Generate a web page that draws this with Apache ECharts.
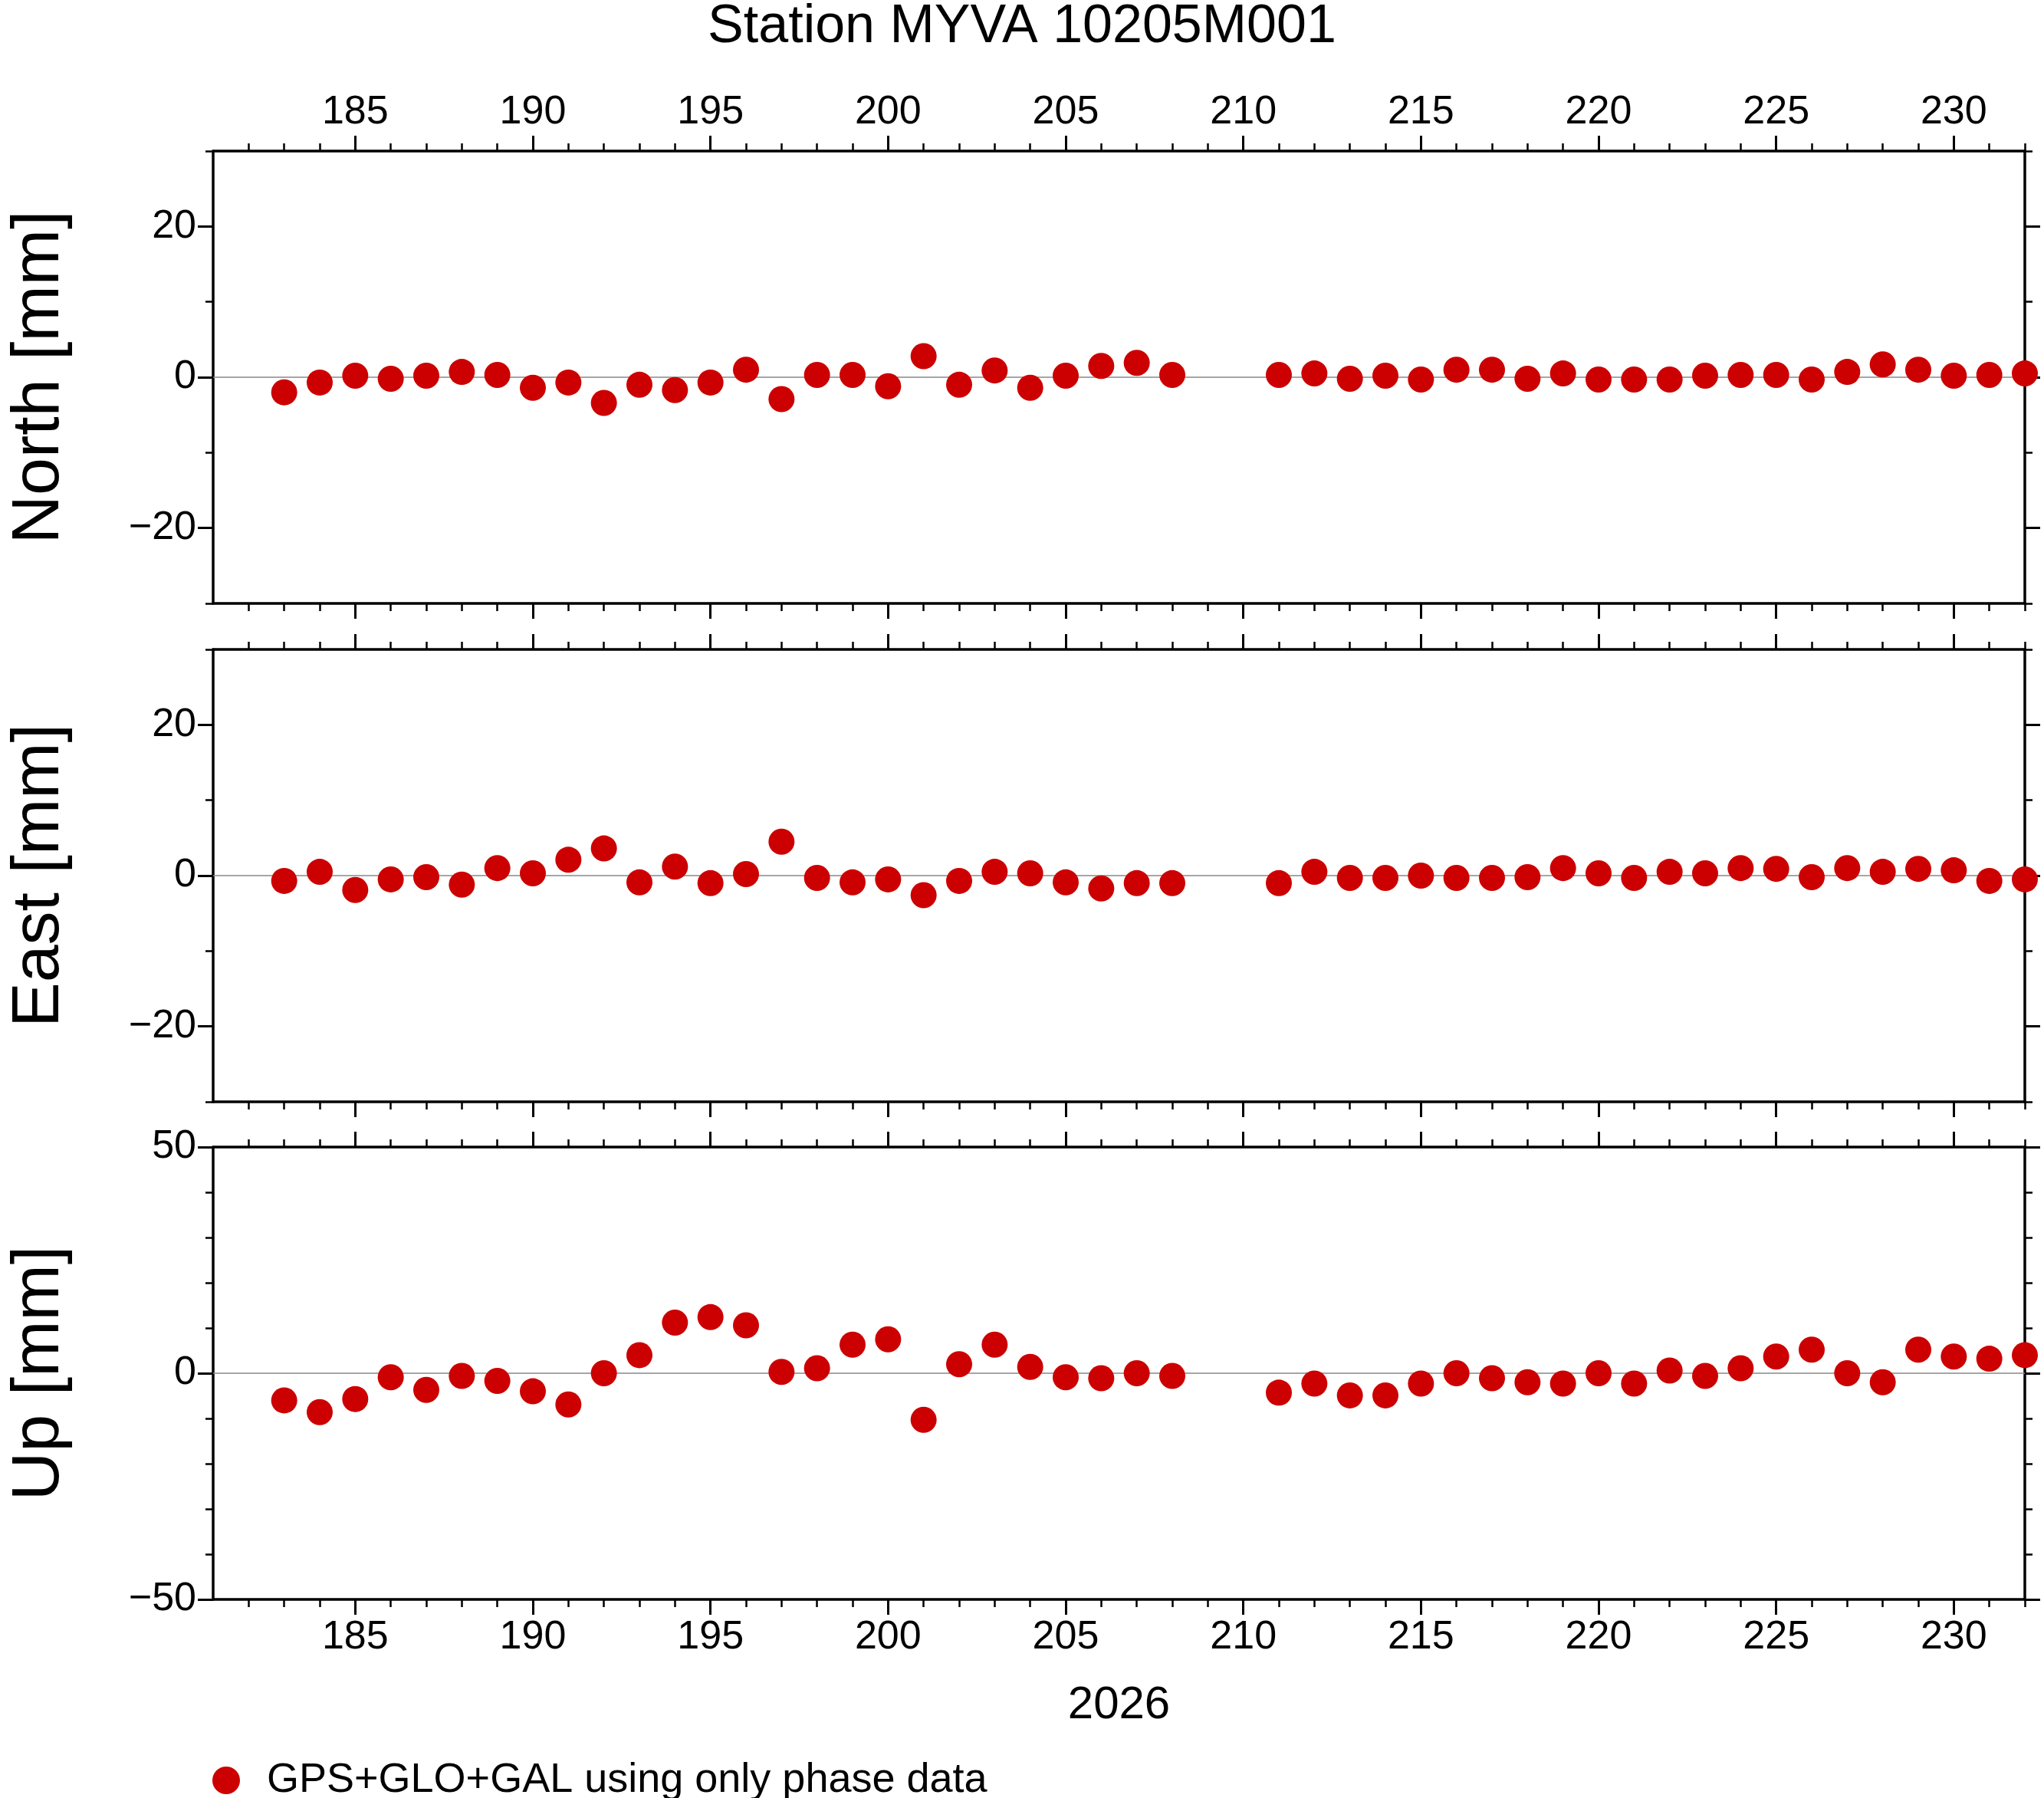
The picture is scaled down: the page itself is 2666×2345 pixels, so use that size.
<!DOCTYPE html>
<html>
<head>
<meta charset="utf-8">
<script src="https://cdn.jsdelivr.net/npm/echarts@6/dist/echarts.min.js"></script>
<style>html,body{margin:0;padding:0;background:#fff}#chart{width:2666px;height:2345px}</style>
</head>
<body>
<div id="chart"></div>
<script>
const days = [183,184,185,186,187,188,189,190,191,192,193,194,195,196,197,198,199,200,201,202,203,204,205,206,207,208,
  211,212,213,214,215,216,217,218,219,220,221,222,223,224,225,226,227,228,229,230,231,232]
const north = [-2,-0.7,0.2,-0.2,0.2,0.7,0.3,-1.4,-0.7,-3.4,-1,-1.7,-0.7,1,-2.9,0.3,0.3,-1.2,2.8,-1,0.9,-1.4,0.2,1.5,1.9,0.3,
  0.3,0.5,-0.2,0.2,-0.3,1,1,-0.2,0.5,-0.3,-0.3,-0.3,0.2,0.3,0.3,-0.3,0.7,1.7,1,0.2,0.3,0.5]
const east = [-0.7,0.5,-1.9,-0.5,-0.2,-1.2,1,0.3,2.1,3.6,-0.9,1.2,-1,0.2,4.5,-0.3,-0.9,-0.5,-2.6,-0.7,0.5,0.3,-0.9,-1.7,-1,-1,
  -1,0.5,-0.3,-0.3,0,-0.3,-0.3,-0.2,1,0.3,-0.3,0.5,0.3,1,0.9,-0.2,1,0.5,0.9,0.7,-0.7,-0.5]
const up = [-6,-8.6,-5.7,-0.9,-3.7,-0.6,-1.7,-4,-6.9,0,4,11.2,12.4,10.6,0.3,1.1,6.3,7.5,-10.3,2,6.3,1.4,-0.9,-1.1,0,-0.6,
  -4.3,-2.3,-4.9,-4.9,-2.3,0,-1.1,-2,-2.3,0,-2.3,0.6,-0.6,1.1,3.7,5.2,0,-2,5.2,3.7,3.2,4]
const xMajor = [185,190,195,200,205,210,215,220,225,230]
const xMinor = []
for (let d = 182; d <= 232; d++) xMinor.push(d)
const panels = [
  { name: 'North [mm]', data: north, min: -30, max: 30, major: [-20,0,20], minor: [-30,-20,-10,0,10,20,30] },
  { name: 'East [mm]', data: east, min: -30, max: 30, major: [-20,0,20], minor: [-30,-20,-10,0,10,20,30] },
  { name: 'Up [mm]', data: up, min: -50, max: 50, major: [-50,0,50], minor: [-50,-40,-30,-20,-10,0,10,20,30,40,50] }
]
const legendName = 'GPS+GLO+GAL using only phase data'

const font = 'Liberation Sans'
const grids = [{ top: 197, height: 590 }, { top: 847, height: 590 }, { top: 1496, height: 590 }]
const line = { show: true, onZero: false, lineStyle: { color: '#000', width: 3.5 } }
const xAxis = [], yAxis = [], series = []

grids.forEach((g, i) => {
  ['bottom', 'top'].forEach(pos => {
    const showLab = (i === 0 && pos === 'top') || (i === 2 && pos === 'bottom')
    // major ticks + labels
    xAxis.push({
      type: 'value', gridIndex: i, position: pos, min: 181, max: 232,
      axisLine: line, splitLine: { show: false },
      axisTick: { show: true, inside: false, length: 20, customValues: xMajor, lineStyle: { color: '#000', width: 3 } },
      axisLabel: { show: showLab, customValues: xMajor, fontSize: 52, fontFamily: font, color: '#000', margin: 24 },
      name: (i === 2 && pos === 'bottom') ? '2026' : '',
      nameLocation: 'middle', nameGap: 108,
      nameTextStyle: { fontSize: 60, fontFamily: font, color: '#000' }
    })
    // minor ticks
    xAxis.push({
      type: 'value', gridIndex: i, position: pos, min: 181, max: 232,
      axisLine: { show: false, onZero: false }, splitLine: { show: false }, axisLabel: { show: false },
      axisTick: { show: true, inside: false, length: 10, customValues: xMinor, lineStyle: { color: '#000', width: 2.5 } }
    })
  })
  const p = panels[i]
  ;['left', 'right'].forEach(pos => {
    yAxis.push({
      type: 'value', gridIndex: i, position: pos, min: p.min, max: p.max,
      axisLine: line, splitLine: { show: false },
      axisTick: { show: true, inside: false, length: 20, customValues: p.major, lineStyle: { color: '#000', width: 3 } },
      axisLabel: { show: pos === 'left', customValues: p.major, fontSize: 52, fontFamily: font, color: '#000', margin: 22,
        formatter: v => v < 0 ? '\u2212' + (-v) : String(v) },
      name: pos === 'left' ? p.name : '', nameLocation: 'middle', nameGap: 182,
      nameTextStyle: { fontSize: 88, fontFamily: font, color: '#000' }
    })
    yAxis.push({
      type: 'value', gridIndex: i, position: pos, min: p.min, max: p.max,
      axisLine: { show: false, onZero: false }, splitLine: { show: false }, axisLabel: { show: false },
      axisTick: { show: true, inside: false, length: 10, customValues: p.minor, lineStyle: { color: '#000', width: 2.5 } }
    })
  })
  series.push({
    name: legendName, type: 'scatter', xAxisIndex: i * 4, yAxisIndex: i * 4,
    data: days.map((d, k) => [d, p.data[k]]),
    symbolSize: 34, itemStyle: { color: '#cc0000', opacity: 1 },
    markLine: { silent: true, symbol: 'none', label: { show: false },
      lineStyle: { color: '#888', width: 1.5, type: 'solid' }, data: [{ yAxis: 0 }], z: 1 }
  })
})

const chart = echarts.init(document.getElementById('chart'))
chart.setOption({
  animation: false,
  backgroundColor: '#fff',
  title: { text: 'Station MYVA 10205M001', left: 'center', top: -4,
    textStyle: { fontSize: 70, fontWeight: 'normal', fontFamily: font, color: '#000' } },
  legend: { data: [legendName], left: 272, top: 2290, icon: 'circle', itemWidth: 36, itemHeight: 36, itemGap: 20,
    textStyle: { fontSize: 54, fontFamily: font, color: '#000', padding: [0, 0, 0, 30] } },
  grid: grids.map(g => ({ left: 277, right: 25, top: g.top, height: g.height })),
  xAxis, yAxis, series
})
</script>
</body>
</html>
